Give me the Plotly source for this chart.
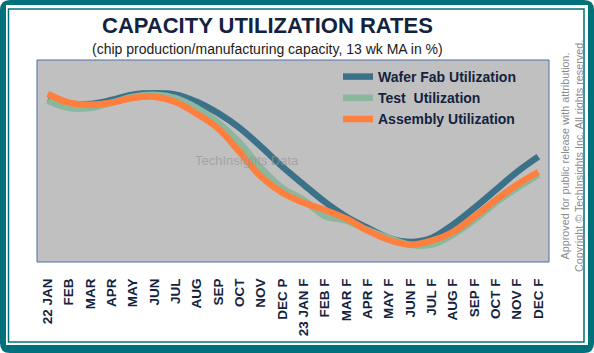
import plotly.graph_objects as go

categories = ["22 JAN", "FEB", "MAR", "APR", "MAY", "JUN", "JUL", "AUG", "SEP", "OCT", "NOV", "DEC P",
              "23 JAN F", "FEB F", "MAR F", "APR F", "MAY F", "JUN F", "JUL F", "AUG F", "SEP F",
              "OCT F", "NOV F", "DEC F"]

wafer_fab = [94.0, 93.4, 93.4, 94.0, 94.8, 95.0, 94.8, 93.7, 92.0, 89.8, 87.0, 84.0,
             81.3, 78.7, 76.5, 74.8, 73.3, 72.7, 73.3, 75.3, 77.8, 80.5, 83.2, 85.5]
test = [93.9, 92.8, 92.8, 93.6, 94.5, 94.8, 94.3, 92.8, 90.6, 87.6, 83.8, 80.8,
        79.0, 76.6, 75.9, 74.5, 73.3, 72.3, 72.3, 73.8, 76.0, 78.6, 80.8, 82.8]
assembly = [94.9, 93.6, 93.3, 93.6, 94.3, 94.5, 93.7, 91.9, 89.7, 86.2, 82.5, 80.1,
            78.6, 77.5, 76.2, 74.4, 73.0, 72.3, 72.9, 74.2, 76.5, 79.0, 81.3, 83.2]

series_names = ["Wafer Fab Utilization", "Test  Utilization", "Assembly Utilization"]
series_colors = ["#3B7189", "#8AB79D", "#FF7F3F"]

W, H = 594, 353
PL, PR, PT, PB = 37, 549, 60, 262


def px(x):
    return (x - PL) / (PR - PL)


def py(y):
    return (PB - y) / (PB - PT)


fig = go.Figure()
for name, vals, col in zip(series_names, [wafer_fab, test, assembly], series_colors):
    fig.add_trace(go.Scatter(x=categories, y=vals, name=name, mode="lines",
                             line=dict(color=col, width=6.5, shape="spline", smoothing=1.0)))

teal = "#00707A"
navy = "#13233F"


def rounded(x0, y0, x1, y1, r):
    X0, X1 = px(x0), px(x1)
    Y0, Y1 = py(y0), py(y1)
    rx = r / (PR - PL)
    ry = r / (PB - PT)
    return (f"M {X0 + rx},{Y0} L {X1 - rx},{Y0} Q {X1},{Y0} {X1},{Y0 - ry} "
            f"L {X1},{Y1 + ry} Q {X1},{Y1} {X1 - rx},{Y1} L {X0 + rx},{Y1} "
            f"Q {X0},{Y1} {X0},{Y1 + ry} L {X0},{Y0 - ry} Q {X0},{Y0} {X0 + rx},{Y0} Z")


shapes = [
    dict(type="path", xref="paper", yref="paper", path=rounded(0, 0, W, H, 10),
         fillcolor=teal, line=dict(width=0), layer="below"),
    dict(type="rect", xref="paper", yref="paper", x0=px(6), x1=px(588), y0=py(5), y1=py(345),
         fillcolor="white", line=dict(width=0), layer="below"),
    dict(type="rect", xref="paper", yref="paper", x0=px(8.5), x1=px(584), y0=py(9), y1=py(342),
         fillcolor="rgba(0,0,0,0)", line=dict(color=teal, width=1.5), layer="below"),
    dict(type="rect", xref="paper", yref="paper", x0=0, x1=1, y0=0, y1=1,
         fillcolor="#C0C0C0", line=dict(color="#4B6FA8", width=1), layer="below"),
]

annotations = [
    dict(text="<b>CAPACITY UTILIZATION RATES</b>", x=px(267), y=py(25), xref="paper", yref="paper",
         showarrow=False, xanchor="center", yanchor="middle",
         font=dict(size=22, color=navy, family="Liberation Sans, Arial, sans-serif")),
    dict(text="(chip production/manufacturing capacity, 13 wk MA in %)", x=px(267), y=py(49),
         xref="paper", yref="paper", showarrow=False, xanchor="center", yanchor="middle",
         font=dict(size=14, color="#1A1A1A", family="Liberation Sans, Arial, sans-serif")),
    dict(text="TechInsights Data", x=px(247), y=py(160), xref="paper", yref="paper",
         showarrow=False, xanchor="center", yanchor="middle",
         font=dict(size=13, color="rgba(150,150,150,0.7)", family="Liberation Sans, Arial, sans-serif")),
    dict(text="Approved for public release with attribution.<br>Copyright © TechInsights Inc. All rights reserved.",
         x=px(572), y=py(156), xref="paper", yref="paper", showarrow=False, textangle=-90,
         xanchor="center", yanchor="middle",
         font=dict(size=10.8, color="#8C8C8C", family="Liberation Sans, Arial, sans-serif")),
]

fig.update_layout(
    width=W, height=H,
    margin=dict(l=PL, r=W - PR, t=PT, b=H - PB),
    paper_bgcolor="white",
    plot_bgcolor="rgba(0,0,0,0)",
    shapes=shapes,
    annotations=annotations,
    showlegend=True,
    legend=dict(x=px(338), y=py(61), xanchor="left", yanchor="top",
                bgcolor="rgba(0,0,0,0)", borderwidth=0,
                font=dict(size=14, color=navy, family="Liberation Sans, Arial, sans-serif", weight="bold")),
    xaxis=dict(type="category", range=[-0.5, len(categories) - 0.5], showgrid=False, zeroline=False,
               showline=False, ticks="outside", ticklen=10, tickcolor="rgba(0,0,0,0)", tickangle=-90,
               tickfont=dict(size=13.5, color=navy, family="Liberation Sans, Arial, sans-serif", weight="bold")),
    yaxis=dict(range=[69.7, 100], visible=False, showgrid=False, zeroline=False),
)

fig.write_html("out.html")
